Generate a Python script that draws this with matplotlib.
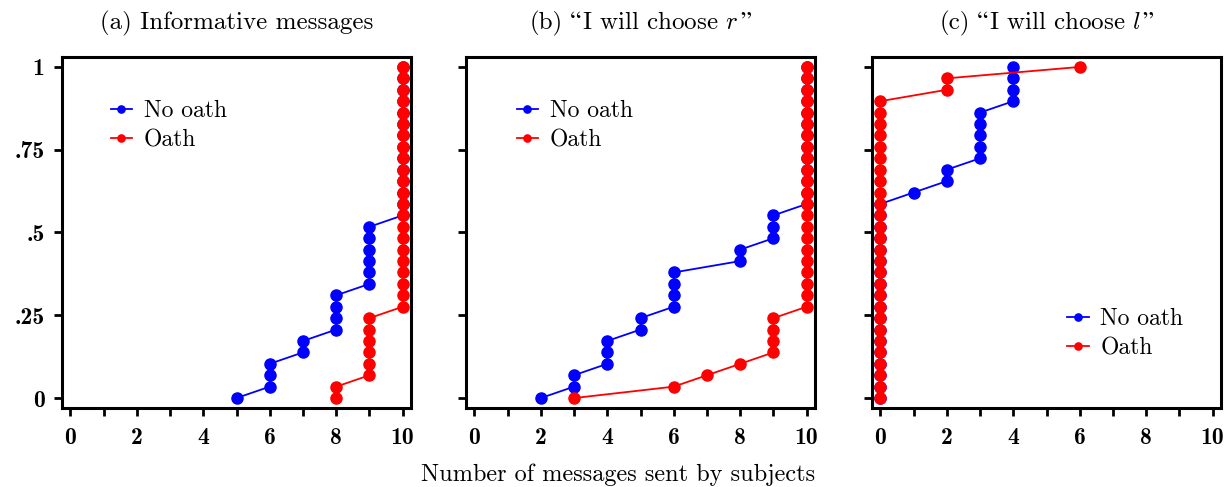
import matplotlib
matplotlib.use("Agg")
import matplotlib.pyplot as plt
import numpy as np

# Data: sorted number of messages sent by each of 30 subjects
title_pieces = [
    [("(a) Informative messages", "cmr10", 0)],
    [("(b)", "cmr10", 0), ("\u201c", "STIXGeneral", 7), ("I will choose $r$", "cmr10", 1), ("\u201d", "STIXGeneral", 1)],
    [("(c)", "cmr10", 0), ("\u201c", "STIXGeneral", 7), ("I will choose $l$", "cmr10", 1), ("\u201d", "STIXGeneral", 1)],
]
series_labels = ["No oath", "Oath"]
a_no_oath = [5, 6, 6, 6, 7, 7, 8, 8, 8, 8, 9, 9, 9, 9, 9, 9, 10, 10, 10, 10, 10, 10, 10, 10, 10, 10, 10, 10, 10, 10]
a_oath = [8, 8, 9, 9, 9, 9, 9, 9, 10, 10, 10, 10, 10, 10, 10, 10, 10, 10, 10, 10, 10, 10, 10, 10, 10, 10, 10, 10, 10, 10]
b_no_oath = [2, 3, 3, 4, 4, 4, 5, 5, 6, 6, 6, 6, 8, 8, 9, 9, 9, 10, 10, 10, 10, 10, 10, 10, 10, 10, 10, 10, 10, 10]
b_oath = [3, 6, 7, 8, 9, 9, 9, 9, 10, 10, 10, 10, 10, 10, 10, 10, 10, 10, 10, 10, 10, 10, 10, 10, 10, 10, 10, 10, 10, 10]
c_no_oath = [0, 0, 0, 0, 0, 0, 0, 0, 0, 0, 0, 0, 0, 0, 0, 0, 0, 0, 1, 2, 2, 3, 3, 3, 3, 3, 4, 4, 4, 4]
c_oath = [0, 0, 0, 0, 0, 0, 0, 0, 0, 0, 0, 0, 0, 0, 0, 0, 0, 0, 0, 0, 0, 0, 0, 0, 0, 0, 0, 2, 2, 6]
x_ticks = [0, 2, 4, 6, 8, 10]
y_ticks = [0, 0.25, 0.5, 0.75, 1]
y_ticklabels = ["0", ".25", ".5", ".75", "1"]
xlabel = "Number of messages sent by subjects"

plt.rcParams['mathtext.fontset'] = 'cm'
plt.rcParams['axes.unicode_minus'] = False

fig = plt.figure(figsize=(12.26, 4.87), dpi=100)
W, H = 1226, 487
lefts = [62, 466, 872]
width = 349
top, bottom = 57, 408
legend_anchor = [(0.14, 0.878), (0.145, 0.878), (0.56, 0.284)]

panels = [(a_no_oath, a_oath), (b_no_oath, b_oath), (c_no_oath, c_oath)]
colors = ["#0000ff", "#ff0000"]
renderer = fig.canvas.get_renderer()


def draw_title(pieces, xc_px, base_px, size):
    texts, widths, gaps = [], [], []
    for s, fam, gap in pieces:
        t = fig.text(0, 1 - base_px / H, s, family=fam, fontsize=size, ha='left', va='baseline')
        texts.append(t)
        widths.append(t.get_window_extent(renderer).width)
        gaps.append(gap)
    total = sum(widths) + sum(gaps[1:])
    x = xc_px - total / 2
    for i, t in enumerate(texts):
        if i > 0:
            x += gaps[i]
        t.set_x(x / W)
        x += widths[i]


for k, (no, oa) in enumerate(panels):
    ax = fig.add_axes([lefts[k] / W, 1 - bottom / H, width / W, (bottom - top) / H])
    for vals, col, lab in zip((no, oa), colors, series_labels):
        v = np.array(vals)
        y = np.arange(len(v)) / (len(v) - 1)
        ax.plot(v, y, '-o', color=col, lw=1.3, ms=8, label=lab)
    ax.set_xlim(-0.25, 10.25)
    ax.set_ylim(-0.03, 1.03)
    ax.set_xticks(x_ticks)
    ax.set_xticks(range(0, 11), minor=True)
    ax.set_yticks(y_ticks)
    if k == 0:
        ax.set_yticklabels(y_ticklabels)
    else:
        ax.set_yticklabels([])
    ax.set_xticklabels([str(t) for t in x_ticks])
    for lab in ax.get_xticklabels() + ax.get_yticklabels():
        lab.set_fontfamily('cmb10')
        lab.set_fontsize(17)
    ax.tick_params(which='both', direction='out', width=2, length=5.5)
    ax.tick_params(axis='x', pad=8)
    ax.tick_params(axis='y', pad=7)
    for s in ax.spines.values():
        s.set_linewidth(2.2)
    draw_title(title_pieces[k], lefts[k] + width / 2, 29, 18)
    ax.legend(loc='upper left', bbox_to_anchor=legend_anchor[k], frameon=False,
              prop={'family': 'cmr10', 'size': 17}, handlelength=0.9,
              handletextpad=0.5, labelspacing=0.3, markerscale=0.65,
              borderpad=0, borderaxespad=0)

fig.text(618 / W, 1 - 475 / H, xlabel, ha='center', va='center', fontsize=17.5, family='cmr10')
fig.savefig("out.png", dpi=100)
